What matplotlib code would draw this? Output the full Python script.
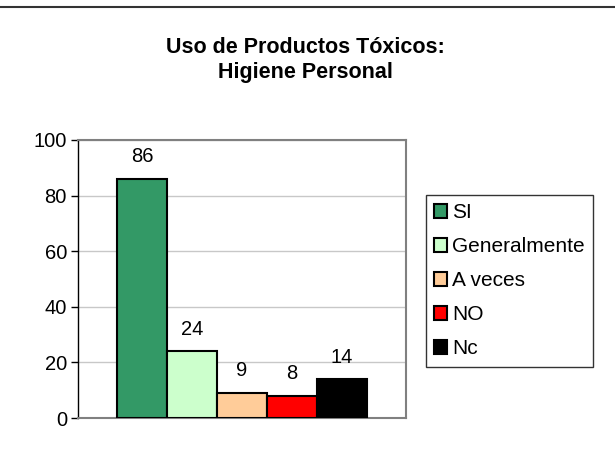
import matplotlib
matplotlib.use("Agg")
import matplotlib.pyplot as plt
from matplotlib.lines import Line2D

plt.rcParams['font.family'] = ['Liberation Sans', 'DejaVu Sans']

# datos
categorias = ["SI", "Generalmente", "A veces", "NO", "Nc"]
valores = [86, 24, 9, 8, 14]
colores = ["#339966", "#CCFFCC", "#FFCC99", "#FF0000", "#000000"]
titulo = "Uso de Productos Tóxicos:\nHigiene Personal"

fig = plt.figure(figsize=(6.15, 4.67), dpi=100)
ax = fig.add_axes([78/615, 49/467, 328/615, 278/467])

pos = list(range(len(valores)))
barras = ax.bar(pos, valores, width=1.0, color=colores, edgecolor="black",
                linewidth=1.5, label=categorias, zorder=3)
ax.bar_label(barras, labels=[str(v) for v in valores], padding=9, fontsize=14.5)

ax.set_xlim(-1.28, 5.28)
ax.set_ylim(0, 100)
ax.set_yticks([0, 20, 40, 60, 80, 100])
ax.set_xticks([])
ax.tick_params(axis='y', labelsize=14.5, length=5, width=1, color="black", pad=3)
ax.yaxis.grid(True, color="#c8c8c8", linewidth=1, zorder=0)
ax.set_axisbelow(True)

for lado in ["top", "right", "bottom"]:
    ax.spines[lado].set_color("#808080")
    ax.spines[lado].set_linewidth(1.5)
ax.spines["left"].set_color("black")
ax.spines["left"].set_linewidth(1)

fig.text(0.497, 1 - 60/467, titulo, ha="center", va="center", fontsize=15.5,
         fontweight="bold", linespacing=1.2)

leg = fig.legend(handles=barras, labels=categorias, loc="upper left",
                 bbox_to_anchor=(426/615, 1 - 195/467), fontsize=15,
                 frameon=True, fancybox=False, edgecolor="black",
                 handlelength=0.62, handleheight=0.62, handletextpad=0.25,
                 labelspacing=0.72, borderpad=0.4, borderaxespad=0)
leg.get_frame().set_linewidth(1)

# linea superior
fig.add_artist(Line2D([0, 1], [1 - 6.5/467, 1 - 6.5/467], color="#333333",
                      linewidth=1.5, transform=fig.transFigure))

fig.savefig("out.png", dpi=100)
